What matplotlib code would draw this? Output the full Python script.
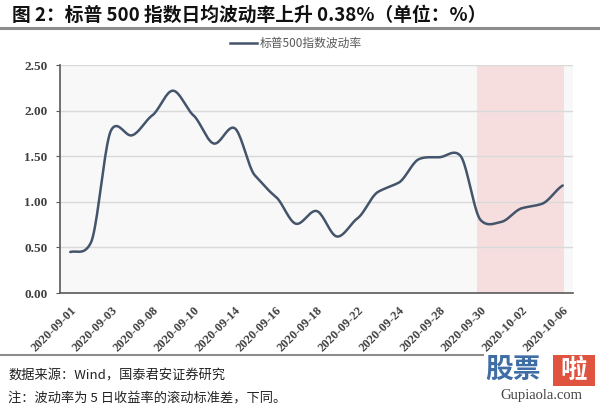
import matplotlib
matplotlib.use("Agg")
import matplotlib.pyplot as plt
import numpy as np
from matplotlib.patches import Rectangle
from matplotlib.lines import Line2D

plt.rcParams['font.family'] = ['Noto Sans CJK SC', 'DejaVu Sans']

# data
dates = ["2020-09-01", "2020-09-02", "2020-09-03", "2020-09-04", "2020-09-08",
         "2020-09-09", "2020-09-10", "2020-09-11", "2020-09-14", "2020-09-15",
         "2020-09-16", "2020-09-17", "2020-09-18", "2020-09-21", "2020-09-22",
         "2020-09-23", "2020-09-24", "2020-09-25", "2020-09-28", "2020-09-29",
         "2020-09-30", "2020-10-01", "2020-10-02", "2020-10-05", "2020-10-06"]
vol = [0.45, 0.55, 1.79, 1.73, 1.95, 2.22, 1.95, 1.64, 1.81, 1.29,
       1.06, 0.76, 0.90, 0.62, 0.82, 1.11, 1.21, 1.47, 1.49, 1.51,
       0.80, 0.78, 0.93, 0.98, 1.18]
shade_from = "2020-09-30"
yticks = [0.0, 0.5, 1.0, 1.5, 2.0, 2.5]

title = "图 2：标普 500 指数日均波动率上升 0.38%（单位：%）"
legend_label = "标普500指数波动率"
source = "数据来源：Wind，国泰君安证券研究"
note = "注：波动率为 5 日收益率的滚动标准差，下同。"

line_col = "#44546a"
serif = "Liberation Serif"


def smooth(y, n=20, k=0.65):
    # cubic hermite through the points, softened tangents (excel-like smoothed line)
    y = np.asarray(y, dtype=float)
    m = np.zeros_like(y)
    m[1:-1] = (y[2:] - y[:-2]) / 2 * k
    m[0] = (y[1] - y[0]) * k
    m[-1] = (y[-1] - y[-2]) * k
    xs, ys = [], []
    for i in range(len(y) - 1):
        t = np.linspace(0, 1, n, endpoint=False)
        h00 = 2 * t ** 3 - 3 * t ** 2 + 1
        h10 = t ** 3 - 2 * t ** 2 + t
        h01 = -2 * t ** 3 + 3 * t ** 2
        h11 = t ** 3 - t ** 2
        xs.extend(i + t)
        ys.extend(h00 * y[i] + h10 * m[i] + h01 * y[i + 1] + h11 * m[i + 1])
    xs.append(len(y) - 1)
    ys.append(y[-1])
    return np.array(xs), np.array(ys)


fig = plt.figure(figsize=(6, 4.12), dpi=100)
ax = fig.add_axes([0.1, 0.2888, 0.855, 0.553])
ax.set_facecolor("#f8f8f8")

x = np.arange(len(dates))
i0 = dates.index(shade_from)
ax.axvspan(i0 - 0.18, len(dates) - 0.94, color="#f6dede", zorder=1, lw=0)

for yv in yticks[1:]:
    ax.axhline(yv, color="#d9d9d9", lw=1, zorder=2)

sx, sy = smooth(vol)
ax.plot(sx, sy, color=line_col, lw=1.8, zorder=3, solid_capstyle="round")

ax.set_xlim(-0.5, len(dates) - 0.5)
ax.set_ylim(0, 2.5)
ax.set_yticks(yticks)
ax.set_yticklabels([f"{v:.2f}" for v in yticks], fontfamily=serif,
                   fontweight="bold", fontsize=9.5, color="#404040")
ax.set_xticks(x[::2])
ax.set_xticklabels(dates[::2], rotation=45, ha="right", rotation_mode="anchor",
                   fontfamily=serif, fontweight="bold", fontsize=9, color="#404040")
ax.tick_params(axis="x", length=0, pad=8)
ax.tick_params(axis="y", length=3, color="#595959", pad=6)
for s in ["top", "right"]:
    ax.spines[s].set_visible(False)
for s in ["left", "bottom"]:
    ax.spines[s].set_color("#595959")
    ax.spines[s].set_linewidth(1.2)

# title bar
fig.text(12 / 600, 1 - 15 / 412, title, fontsize=13.5, fontweight="bold",
         va="center", ha="left", color="#111111")
fig.add_artist(Line2D([0, 1], [1 - 28 / 412] * 2, color="#8c8c8c", lw=2.2))

# legend
fig.add_artist(Line2D([230 / 600, 257 / 600], [1 - 43 / 412] * 2, color=line_col, lw=1.8))
fig.text(260 / 600, 1 - 43 / 412, legend_label, fontsize=8.5, va="center",
         ha="left", color="#595959")

# footer
fig.add_artist(Line2D([0, 483 / 600], [1 - 355 / 412] * 2, color="#8c8c8c", lw=1.5))
fig.text(8 / 600, 1 - 376 / 412, source, fontsize=9.5, va="center", ha="left", color="#222222")
fig.text(8 / 600, 1 - 399 / 412, note, fontsize=9.5, va="center", ha="left", color="#222222")

# watermark
fig.text(485 / 600, 1 - 370 / 412, "股票", fontsize=20, fontweight="bold",
         color="#3f6da6", va="center", ha="left")
fig.add_artist(Rectangle((553 / 600, 1 - 386 / 412), 42 / 600, 31 / 412,
                         transform=fig.transFigure, color="#e0533f", lw=0))
fig.text(574 / 600, 1 - 370 / 412, "啦", fontsize=19, fontweight="bold",
         color="white", va="center", ha="center")
fig.text(541 / 600, 1 - 396 / 412, "Gupiaola.com", fontsize=10.5, fontfamily=serif,
         color="#444444", va="center", ha="center")

fig.savefig("out.png", dpi=100)
